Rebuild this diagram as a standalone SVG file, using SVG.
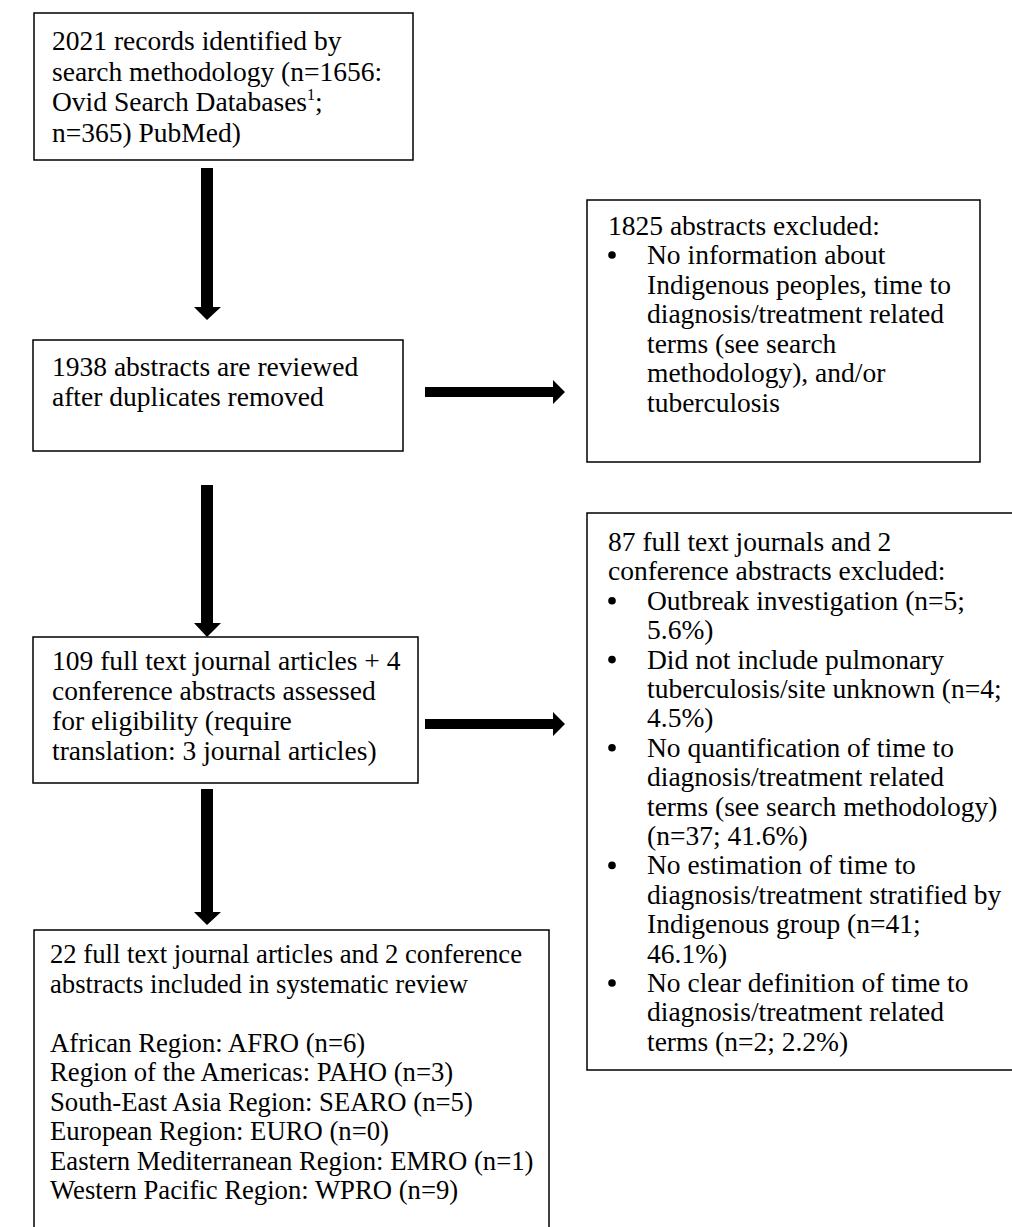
<svg xmlns="http://www.w3.org/2000/svg" width="1012" height="1227" viewBox="0 0 1012 1227">
<style>
.box{fill:#fff;stroke:#000;stroke-width:1.5}
text{font-family:"Liberation Serif","Times New Roman",serif;font-size:27.5px;fill:#000}
.sm{font-size:26.7px}
.arr{fill:#000}
.bul{fill:#000}
</style>
<rect width="1012" height="1227" fill="#fff"/>
<g id="connectors">
<polygon class="arr" points="201,168 213,168 213,307 221,307 207,320 194,307 201,307"/>
<polygon class="arr" points="201,485 213,485 213,623 221,623 207,637 194,623 201,623"/>
<polygon class="arr" points="201,789 213,789 213,912 221,912 207,925 194,912 201,912"/>
<polygon class="arr" points="425,387 553,387 553,380 565,392 553,404 553,397 425,397"/>
<polygon class="arr" points="425,719 553,719 553,712 565,724 553,736 553,729 425,729"/>
</g>
<g id="n1">
<rect class="box" x="34" y="13" width="379" height="147"/>
<text x="52" y="50">2021 records identified by</text>
<text x="52" y="80.5">search methodology (n=1656:</text>
<text x="52" y="111">Ovid Search Databases<tspan font-size="16" dy="-11">1</tspan><tspan dy="11">;</tspan></text>
<text x="52" y="141.5">n=365) PubMed)</text>
</g>
<g id="n2">
<rect class="box" x="33" y="340" width="370" height="111"/>
<text x="52" y="376">1938 abstracts are reviewed</text>
<text x="52" y="406">after duplicates removed</text>
</g>
<g id="n3">
<rect class="box" x="587" y="200" width="393" height="262"/>
<text x="608" y="235">1825 abstracts excluded:</text>
<circle class="bul" cx="612" cy="255" r="3.8"/>
<text x="647" y="264">No information about</text>
<text x="647" y="293.5">Indigenous peoples, time to</text>
<text x="647" y="323">diagnosis/treatment related</text>
<text x="647" y="352.5">terms (see search</text>
<text x="647" y="382">methodology), and/or</text>
<text x="647" y="411.5">tuberculosis</text>
</g>
<g id="n4">
<rect class="box" x="33" y="637" width="385" height="146"/>
<text x="52" y="670">109 full text journal articles + 4</text>
<text x="52" y="700">conference abstracts assessed</text>
<text x="52" y="730">for eligibility (require</text>
<text x="52" y="760">translation: 3 journal articles)</text>
</g>
<g id="n5">
<rect class="box" x="587" y="513" width="440" height="557"/>
<text x="608" y="551">87 full text journals and 2</text>
<text x="608" y="580.4">conference abstracts excluded:</text>
<circle class="bul" cx="612" cy="600.8" r="3.8"/>
<text x="647" y="609.8">Outbreak investigation (n=5;</text>
<text x="647" y="639.2">5.6%)</text>
<circle class="bul" cx="612" cy="659.6" r="3.8"/>
<text x="647" y="668.6">Did not include pulmonary</text>
<text x="647" y="698">tuberculosis/site unknown (n=4;</text>
<text x="647" y="727.4">4.5%)</text>
<circle class="bul" cx="612" cy="747.8" r="3.8"/>
<text x="647" y="756.8">No quantification of time to</text>
<text x="647" y="786.2">diagnosis/treatment related</text>
<text x="647" y="815.6">terms (see search methodology)</text>
<text x="647" y="845">(n=37; 41.6%)</text>
<circle class="bul" cx="612" cy="865.4" r="3.8"/>
<text x="647" y="874.4">No estimation of time to</text>
<text x="647" y="903.8">diagnosis/treatment stratified by</text>
<text x="647" y="933.2">Indigenous group (n=41;</text>
<text x="647" y="962.6">46.1%)</text>
<circle class="bul" cx="612" cy="983" r="3.8"/>
<text x="647" y="992">No clear definition of time to</text>
<text x="647" y="1021.4">diagnosis/treatment related</text>
<text x="647" y="1050.8">terms (n=2; 2.2%)</text>
</g>
<g id="n6">
<rect class="box" x="34" y="930" width="515" height="320"/>
<text class="sm" x="50" y="963">22 full text journal articles and 2 conference</text>
<text class="sm" x="50" y="992.5">abstracts included in systematic review</text>
<text class="sm" x="50" y="1051.5">African Region: AFRO (n=6)</text>
<text class="sm" x="50" y="1081">Region of the Americas: PAHO (n=3)</text>
<text class="sm" x="50" y="1110.5">South-East Asia Region: SEARO (n=5)</text>
<text class="sm" x="50" y="1140">European Region: EURO (n=0)</text>
<text class="sm" x="50" y="1169.5">Eastern Mediterranean Region: EMRO (n=1)</text>
<text class="sm" x="50" y="1199">Western Pacific Region: WPRO (n=9)</text>
</g>
</svg>
